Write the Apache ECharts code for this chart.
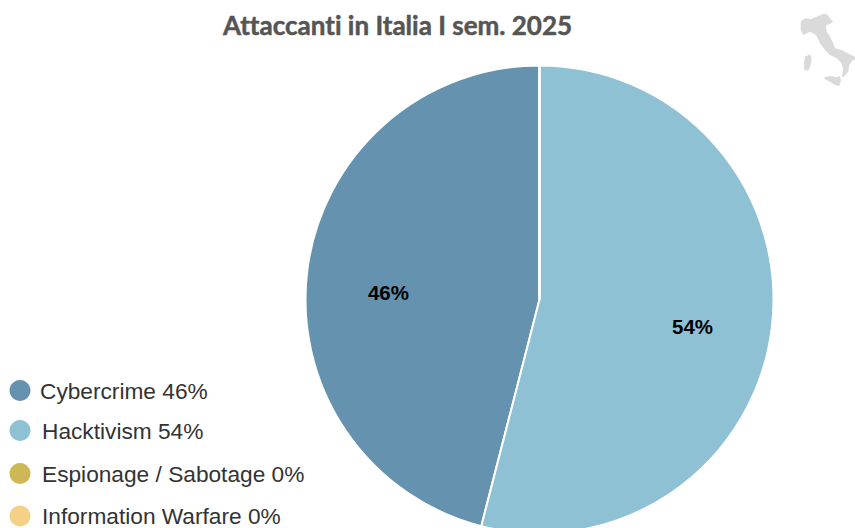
<!DOCTYPE html>
<html>
<head>
<meta charset="utf-8">
<style>
html,body{margin:0;padding:0;background:#fff}
#chart{width:855px;height:528px}
#chart text{font-variant-ligatures:none}
</style>
<script src="https://cdn.jsdelivr.net/npm/echarts@6/dist/echarts.min.js"></script>
</head>
<body>
<div id="chart"></div>
<script>
// Attacker types, Italy, first half of 2025
const categories = ['Cybercrime', 'Hacktivism', 'Espionage / Sabotage', 'Information Warfare'];
const shares = [46, 54, 0, 0];
const colors = ['#6592AE', '#8FC1D5', '#CDB855', '#F4D186'];
const legendTops = [379, 419, 462, 504.5];
const legendLeft = 9.5;
const legendTextPads = [4.5, 6.5, 6.5, 6.5];
const labelNudges = [[-32, 8], [34, 12], [0, 0], [0, 0]];

// Outline of the Italian peninsula and the two main islands
const mainland = [[800.7,21.7],[805,18.3],[810.7,19],[816.7,16.7],[822.7,14],[826.7,14],[830,18.3],[833.3,21.7],[830,24],[826,25],[826.7,31.7],[830,36.7],[833.3,43.3],[835,48.3],[841.7,50],[846.7,52.7],[855,56.7],[855,60.5],[852.7,60],[849.3,65],[848.3,71.7],[843.3,77.3],[841.7,76],[843.3,70],[841.7,63.3],[836.7,58.3],[830,55],[825,50],[820,43.3],[816,35],[810,31.7],[803.3,35],[800.7,30]];
const sardinia = [[805,56.7],[810,54.3],[811.7,58.3],[810.7,65],[808.3,70.7],[804.3,70],[804,63.3]];
const sicily = [[824,77.3],[830,76],[836.7,77.3],[840,76],[841,80],[839.3,86],[835,85],[830,81.7],[825,79.3]];

const chart = echarts.init(document.getElementById('chart'), null, { renderer: 'svg' });

chart.setOption({
  animation: false,
  backgroundColor: '#fff',
  color: colors,
  title: {
    text: 'Attaccanti in Italia I sem. 2025',
    left: 392.5,
    top: 7,
    textAlign: 'center',
    textStyle: {
      fontFamily: 'Lato',
      fontWeight: 'bold',
      fontSize: 26,
      color: '#555555',
      textBorderColor: '#555555',
      textBorderWidth: 0.5
    }
  },
  legend: categories.map((name, i) => ({
    data: [name],
    orient: 'vertical',
    left: legendLeft,
    top: legendTops[i],
    icon: 'circle',
    itemWidth: 21,
    itemHeight: 21,
    itemGap: 0,
    padding: 0,
    selectedMode: false,
    itemStyle: { borderWidth: 0 },
    textStyle: {
      fontFamily: 'Liberation Sans',
      fontSize: 22.7,
      color: '#333333',
      padding: [0, 0, 3, legendTextPads[i]]
    },
    formatter: n => n + ' ' + shares[categories.indexOf(n)] + '%'
  })),
  graphic: [mainland, sardinia, sicily].map(points => ({
    type: 'polygon',
    silent: true,
    shape: { points },
    style: { fill: '#DADADA' }
  })),
  series: [{
    type: 'pie',
    center: [539.5, 299.5],
    radius: [0, 234],
    startAngle: 90,
    clockwise: false,
    avoidLabelOverlap: false,
    itemStyle: { borderColor: '#fff', borderWidth: 2 },
    label: {
      show: true,
      position: 'inside',
      formatter: p => p.value > 0 ? p.value + '%' : '',
      fontFamily: 'Liberation Sans',
      fontWeight: 'bold',
      fontSize: 20.5,
      color: '#000'
    },
    labelLine: { show: false },
    labelLayout: p => ({ dx: labelNudges[p.dataIndex][0], dy: labelNudges[p.dataIndex][1] }),
    data: categories.map((name, i) => ({ name, value: shares[i] }))
  }]
});
</script>
</body>
</html>
